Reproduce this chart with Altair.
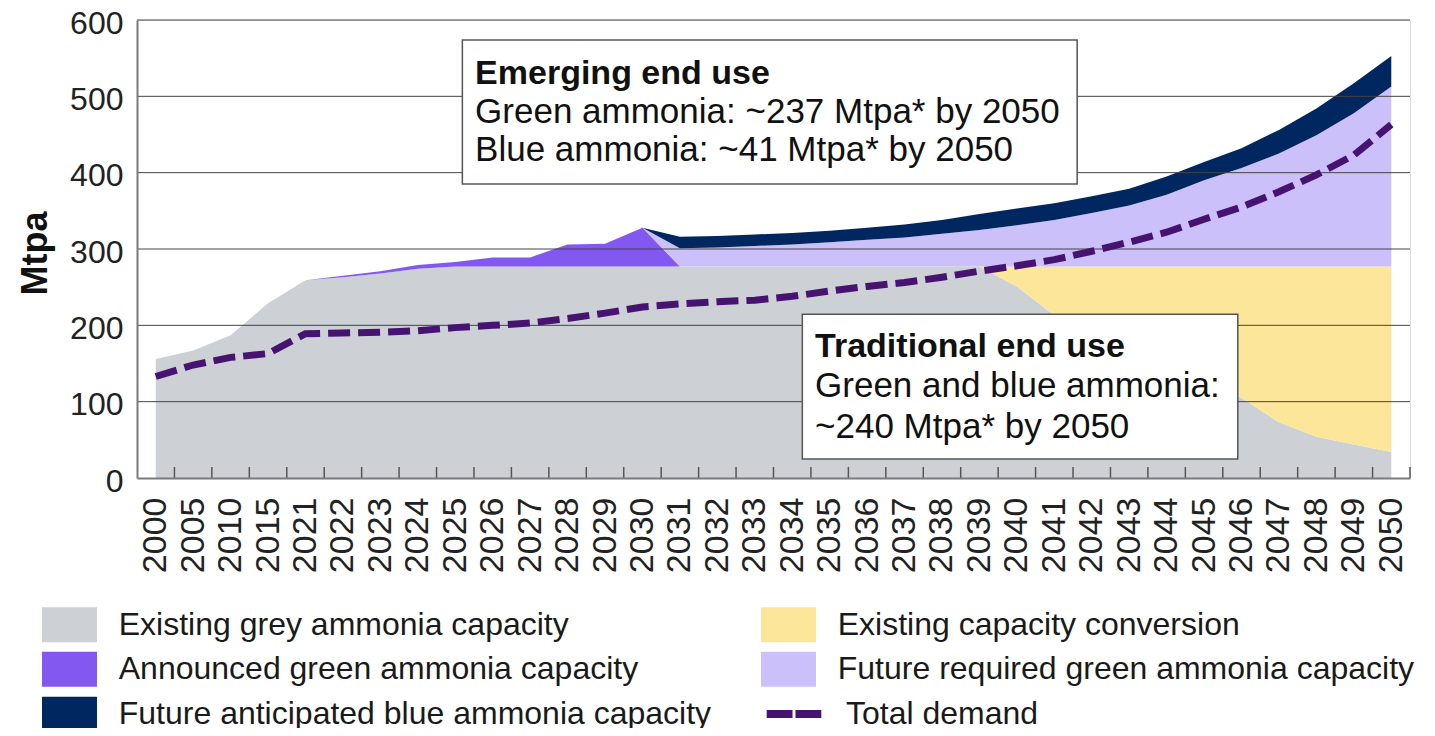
import altair as alt
import pandas as pd

# ---------------- data ----------------
years = ["2000", "2005", "2010", "2015", "2021", "2022", "2023", "2024", "2025", "2026",
         "2027", "2028", "2029", "2030", "2031", "2032", "2033", "2034", "2035", "2036",
         "2037", "2038", "2039", "2040", "2041", "2042", "2043", "2044", "2045", "2046",
         "2047", "2048", "2049", "2050"]

grey_existing = [156, 167, 187, 229, 259, 263, 268, 274, 277, 277,
                 277, 277, 277, 277, 277, 277, 277, 277, 277, 277,
                 277, 277, 277, 251, 213, 191, 169, 147, 126, 105,
                 73, 54, 44, 34]
conversion = [0, 0, 0, 0, 0, 0, 0, 0, 0, 0,
              0, 0, 0, 0, 0, 0, 0, 0, 0, 0,
              0, 0, 0, 26, 64, 86, 108, 130, 151, 172,
              204, 223, 233, 243]
announced_green = [0, 0, 0, 0, 0, 2, 3, 5, 6, 12,
                   12, 29, 30, 51, 0, 0, 0, 0, 0, 0,
                   0, 0, 0, 0, 0, 0, 0, 0, 0, 0,
                   0, 0, 0, 0]
future_green = [0, 0, 0, 0, 0, 0, 0, 0, 0, 0,
                0, 0, 0, 0, 24, 25, 27, 29, 32, 35,
                38, 43, 48, 54, 61, 70, 80, 94, 113, 129,
                148, 172, 201, 236]
future_blue = [0, 0, 0, 0, 0, 0, 0, 0, 0, 0,
               0, 0, 0, 0, 15, 15, 15, 15, 15, 16,
               17, 18, 21, 22, 22, 22, 22, 24, 24, 26,
               31, 35, 39, 40]
total_demand = [133, 148, 158, 163, 189, 190, 191, 193, 197, 200,
                203, 209, 216, 224, 228, 231, 233, 238, 245, 251,
                256, 263, 271, 278, 286, 297, 309, 322, 339, 355,
                375, 397, 423, 463]

# stacking order (bottom -> top)
series_names = ["Existing grey ammonia capacity",
                "Existing capacity conversion",
                "Announced green ammonia capacity",
                "Future required green ammonia capacity",
                "Future anticipated blue ammonia capacity"]
series_values = [grey_existing, conversion, announced_green, future_green, future_blue]
series_colors = ["#cdd1d5", "#fce69a", "#8358f0", "#cbc0fa", "#00275f"]
# legend order (column-major, 3 rows x 2 columns)
legend_order = ["Existing grey ammonia capacity",
                "Announced green ammonia capacity",
                "Future anticipated blue ammonia capacity",
                "Existing capacity conversion",
                "Future required green ammonia capacity"]
legend_colors = [series_colors[series_names.index(s)] for s in legend_order]
demand_name = "Total demand"
demand_color = "#461470"

y_ticks = [0, 100, 200, 300, 400, 500, 600]
grid_values = [100, 200, 300, 400, 500, 600]

# annotation boxes (data coordinates: category position, Mtpa)
box_x = [8.19, 17.27]
box_x2 = [24.61, 28.9]
box_y = [573.8, 214.5]
box_y2 = [385.2, 24.9]
title_text = ["Emerging end use", "Traditional end use"]
title_x = [8.53, 17.61]
title_y = [516, 158]
body_text = ["Green ammonia: ~237 Mtpa* by 2050", "Blue ammonia: ~41 Mtpa* by 2050",
             "Green and blue ammonia:", "~240 Mtpa* by 2050"]
body_x = [8.53, 8.53, 17.61, 17.61]
body_y = [465, 415, 105.5, 53]

# ---------------- tables ----------------
n = len(years)
rows = []
for k, (name, vals) in enumerate(zip(series_names, series_values)):
    for i, v in enumerate(vals):
        rows.append({"year": years[i], "series": name, "ord": k, "value": v})
area_df = pd.DataFrame(rows)
line_df = pd.DataFrame({"year": years, "value": total_demand, "series": [demand_name] * n})
grid_df = pd.DataFrame({"value": grid_values})
tick_df = pd.DataFrame({"pos": [i + 0.5 for i in range(n)]})
box_df = pd.DataFrame({"pos": box_x, "pos2": box_x2, "value": box_y, "value2": box_y2})
title_df = pd.DataFrame({"pos": title_x, "value": title_y, "text": title_text})
body_df = pd.DataFrame({"pos": body_x, "value": body_y, "text": body_text})

FONT = "Liberation Sans"
cat_scale = alt.Scale(type="point", domain=years, padding=0.5)
pos_scale = alt.Scale(domain=[-0.5, n - 0.5], nice=False, zero=False)
y_scale = alt.Scale(domain=[0, 600], nice=False)

x_enc = alt.X("year:O", scale=cat_scale, sort=years,
              axis=alt.Axis(labelAngle=270, labelFont=FONT, labelFontSize=34,
                            labelColor="#222222", labelPadding=19, ticks=False, tickSize=0,
                            grid=False, domainColor="#7a7a7a", domainWidth=2, title=None,
                            labelOverlap=False, zindex=1))
y_enc = alt.Y("value:Q", stack="zero", scale=y_scale,
              axis=alt.Axis(values=y_ticks, labelFont=FONT, labelFontSize=32,
                            labelColor="#222222", labelPadding=14, ticks=False, tickSize=0,
                            labelOffset=3, grid=False, domainColor="#7a7a7a", domainWidth=2,
                            title="Mtpa", titleFont=FONT, titleFontSize=36,
                            titleFontWeight="bold", titleColor="#111111",
                            titleX=-102, titleY=233, titleAlign="center",
                            titleBaseline="middle", titleAngle=270, zindex=1))

areas = alt.Chart(area_df).mark_area(interpolate="linear").encode(
    x=x_enc,
    y=y_enc,
    color=alt.Color("series:N", scale=alt.Scale(domain=legend_order, range=legend_colors),
                    legend=alt.Legend(title=None, orient="none", legendX=-90, legendY=581.75,
                                      columns=2, columnPadding=49, rowPadding=4,
                                      symbolType="M-1.236,-0.787H1.236V0.787H-1.236Z",
                                      symbolSize=1980, symbolStrokeWidth=0, symbolOpacity=1,
                                      labelFont=FONT, labelFontSize=32,
                                      labelColor="#1a1a1a", labelOffset=26.75,
                                      labelLimit=900, padding=0)),
    order=alt.Order("ord:Q", sort="ascending"),
)

grid = alt.Chart(grid_df).mark_rule(color="#444444", strokeWidth=1).encode(
    y=alt.Y("value:Q", scale=y_scale),
)

ticks = alt.Chart(tick_df).mark_rule(color="#555555", strokeWidth=1.5).encode(
    x=alt.X("pos:Q", scale=pos_scale, axis=None),
    y=alt.datum(0),
    y2=alt.datum(14.5),
)

line = alt.Chart(line_df).mark_line(strokeWidth=7, strokeDash=[22, 8], strokeCap="butt").encode(
    x=alt.X("year:O", scale=cat_scale, sort=years, axis=None),
    y=alt.Y("value:Q", scale=y_scale),
    stroke=alt.Stroke("series:N", scale=alt.Scale(domain=[demand_name], range=[demand_color]),
                      legend=alt.Legend(title=None, orient="none", legendX=632, legendY=669,
                                        symbolType="M-1.3,0H-0.07M0.07,0H1.3", symbolSize=1764,
                                        symbolStrokeWidth=8, labelFont=FONT, labelFontSize=32,
                                        labelColor="#1a1a1a", labelOffset=27, padding=0,
                                        labelLimit=900)),
)

boxes = alt.Chart(box_df).mark_rect(fill="white", stroke="#555555", strokeWidth=1.5).encode(
    x=alt.X("pos:Q", scale=pos_scale, axis=None), x2="pos2:Q",
    y=alt.Y("value:Q", scale=y_scale), y2="value2:Q",
)

titles = alt.Chart(title_df).mark_text(align="left", baseline="alphabetic", font=FONT,
                                       fontSize=34, fontWeight="bold", color="#111111").encode(
    x=alt.X("pos:Q", scale=pos_scale, axis=None), y=alt.Y("value:Q", scale=y_scale),
    text="text:N")

bodies = alt.Chart(body_df).mark_text(align="left", baseline="alphabetic", font=FONT,
                                      fontSize=35, color="#111111").encode(
    x=alt.X("pos:Q", scale=pos_scale, axis=None), y=alt.Y("value:Q", scale=y_scale),
    text="text:N")

chart = alt.layer(areas, grid, ticks, line, boxes, titles, bodies).resolve_scale(
    x="independent", color="independent", stroke="independent"
).properties(
    width=1273, height=458,
    autosize=alt.AutoSizeParams(type="none"),
    padding={"left": 129, "top": 12, "right": 10, "bottom": 250},
).configure_view(strokeWidth=0).configure(font=FONT)

chart.save("out.html", embed_options={"renderer": "svg", "actions": False})
